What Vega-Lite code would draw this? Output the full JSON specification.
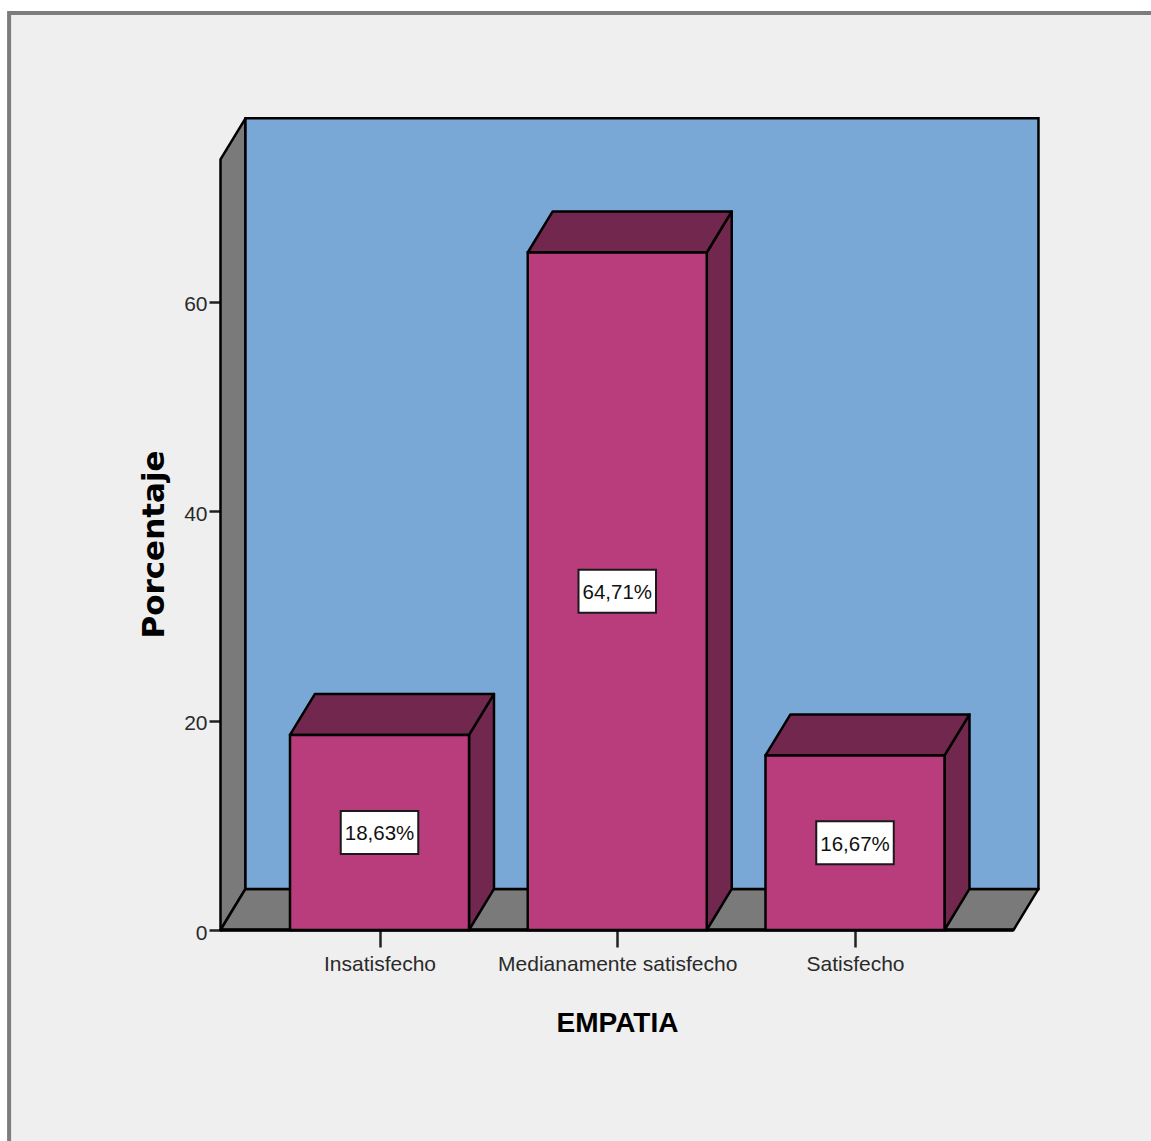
{
  "$schema": "https://vega.github.io/schema/vega-lite/v6.json",
  "width": 930,
  "height": 930,
  "padding": {"left": 221, "top": 0, "right": 0, "bottom": 211},
  "autosize": {"type": "none"},
  "background": "#efefef",
  "view": {"stroke": null},
  "params": [
    {"name": "mitad", "value": 0.3765},
    {"name": "dx", "value": 0.105},
    {"name": "dy", "value": 3.92}
  ],
  "resolve": {"axis": {"x": "independent", "y": "independent"}},
  "datasets": {
    "empatia": [
      {"nivel": "Insatisfecho", "pos": 1, "porcentaje": 18.63},
      {"nivel": "Medianamente satisfecho", "pos": 2, "porcentaje": 64.71},
      {"nivel": "Satisfecho", "pos": 3, "porcentaje": 16.67}
    ],
    "plano": [
      {"xMin": 0.3312, "xMax": 3.6667, "yMax": 73.6}
    ],
    "margen": [
      {"izq": -1, "der": 5, "sup": 100, "inf": 87.58},
      {"izq": -1, "der": -0.558, "sup": 100, "inf": -30}
    ],
    "marco": [
      {"izq": -0.558, "der": 4.4, "sup": 87.58, "inf": -22}
    ]
  },
  "layer": [
    {
      "data": {"name": "margen"},
      "mark": {"type": "rect", "fill": "#ffffff"},
      "encoding": {
        "x": {"field": "izq", "type": "quantitative", "scale": {"domain": [0.3333, 4.245], "nice": false, "zero": false}, "axis": null},
        "x2": {"field": "der"},
        "y": {"field": "sup", "type": "quantitative", "scale": {"domain": [0, 88.825], "nice": false, "zero": false}, "axis": null},
        "y2": {"field": "inf"}
      }
    },
    {
      "data": {"name": "marco"},
      "mark": {"type": "rect", "fill": null, "stroke": "#7d7d7d", "strokeWidth": 4},
      "encoding": {
        "x": {"field": "izq", "type": "quantitative", "scale": {"domain": [0.3333, 4.245], "nice": false, "zero": false}, "axis": null},
        "x2": {"field": "der"},
        "y": {"field": "sup", "type": "quantitative", "scale": {"domain": [0, 88.825], "nice": false, "zero": false}, "axis": null},
        "y2": {"field": "inf"}
      }
    },
    {
      "data": {"name": "plano"},
      "transform": [
        {"calculate": "[datum.xMin, datum.xMin + dx]", "as": "caraX"},
        {"calculate": "[0, dy]", "as": "caraLo"},
        {"calculate": "[datum.yMax, datum.yMax + dy]", "as": "caraHi"},
        {"flatten": ["caraX", "caraLo", "caraHi"]}
      ],
      "mark": {"type": "area", "fill": "#7a7a7a", "stroke": "#000000", "strokeWidth": 2.5, "strokeJoin": "round", "interpolate": "linear"},
      "encoding": {
        "x": {"field": "caraX", "type": "quantitative", "scale": {"domain": [0.3333, 4.245], "nice": false, "zero": false}, "axis": null},
        "y": {"field": "caraLo", "type": "quantitative", "scale": {"domain": [0, 88.825], "nice": false, "zero": false}, "axis": null},
        "y2": {"field": "caraHi"}
      }
    },
    {
      "data": {"name": "plano"},
      "transform": [
        {"calculate": "[datum.xMin, datum.xMin + dx, datum.xMax, datum.xMax + dx]", "as": "caraX"},
        {"calculate": "[0, 0, 0, dy]", "as": "caraLo"},
        {"calculate": "[0, dy, dy, dy]", "as": "caraHi"},
        {"flatten": ["caraX", "caraLo", "caraHi"]}
      ],
      "mark": {"type": "area", "fill": "#7a7a7a", "stroke": "#000000", "strokeWidth": 2.5, "strokeJoin": "round", "interpolate": "linear"},
      "encoding": {
        "x": {"field": "caraX", "type": "quantitative", "scale": {"domain": [0.3333, 4.245], "nice": false, "zero": false}, "axis": null},
        "y": {"field": "caraLo", "type": "quantitative", "scale": {"domain": [0, 88.825], "nice": false, "zero": false}, "axis": null},
        "y2": {"field": "caraHi"}
      }
    },
    {
      "data": {"name": "plano"},
      "transform": [
        {"calculate": "datum.xMin + dx", "as": "x0"},
        {"calculate": "datum.xMax + dx", "as": "x1"},
        {"calculate": "dy", "as": "y0"},
        {"calculate": "datum.yMax + dy", "as": "y1"}
      ],
      "mark": {"type": "rect", "fill": "#7aa8d6", "stroke": "#000000", "strokeWidth": 2.5},
      "encoding": {
        "x": {"field": "x0", "type": "quantitative", "scale": {"domain": [0.3333, 4.245], "nice": false, "zero": false}, "axis": null},
        "x2": {"field": "x1"},
        "y": {"field": "y0", "type": "quantitative", "scale": {"domain": [0, 88.825], "nice": false, "zero": false}, "axis": null},
        "y2": {"field": "y1"}
      }
    },
    {
      "data": {"name": "plano"},
      "transform": [{"calculate": "0", "as": "base"}],
      "mark": {"type": "rule", "stroke": "#000000", "strokeWidth": 3.5},
      "encoding": {
        "x": {"field": "xMin", "type": "quantitative", "scale": {"domain": [0.3333, 4.245], "nice": false, "zero": false}, "axis": null},
        "x2": {"field": "xMax"},
        "y": {"field": "base", "type": "quantitative", "scale": {"domain": [0, 88.825], "nice": false, "zero": false}, "axis": null}
      }
    },
    {
      "data": {"name": "empatia"},
      "transform": [
        {"calculate": "[datum.pos + mitad, datum.pos + mitad + dx]", "as": "caraX"},
        {"calculate": "[0, dy]", "as": "caraLo"},
        {"calculate": "[datum.porcentaje, datum.porcentaje + dy]", "as": "caraHi"},
        {"flatten": ["caraX", "caraLo", "caraHi"]}
      ],
      "mark": {"type": "area", "fill": "#72284e", "stroke": "#000000", "strokeWidth": 2.5, "strokeJoin": "round", "interpolate": "linear"},
      "encoding": {
        "x": {"field": "caraX", "type": "quantitative", "scale": {"domain": [0.3333, 4.245], "nice": false, "zero": false}, "axis": null},
        "y": {"field": "caraLo", "type": "quantitative", "scale": {"domain": [0, 88.825], "nice": false, "zero": false}, "axis": null},
        "y2": {"field": "caraHi"},
        "detail": {"field": "nivel"}
      }
    },
    {
      "data": {"name": "empatia"},
      "transform": [
        {"calculate": "[datum.pos - mitad, datum.pos - mitad + dx, datum.pos + mitad, datum.pos + mitad + dx]", "as": "caraX"},
        {"calculate": "[datum.porcentaje, datum.porcentaje, datum.porcentaje, datum.porcentaje + dy]", "as": "caraLo"},
        {"calculate": "[datum.porcentaje, datum.porcentaje + dy, datum.porcentaje + dy, datum.porcentaje + dy]", "as": "caraHi"},
        {"flatten": ["caraX", "caraLo", "caraHi"]}
      ],
      "mark": {"type": "area", "fill": "#72284e", "stroke": "#000000", "strokeWidth": 2.5, "strokeJoin": "round", "interpolate": "linear"},
      "encoding": {
        "x": {"field": "caraX", "type": "quantitative", "scale": {"domain": [0.3333, 4.245], "nice": false, "zero": false}, "axis": null},
        "y": {"field": "caraLo", "type": "quantitative", "scale": {"domain": [0, 88.825], "nice": false, "zero": false}, "axis": null},
        "y2": {"field": "caraHi"},
        "detail": {"field": "nivel"}
      }
    },
    {
      "data": {"name": "empatia"},
      "transform": [
        {"calculate": "datum.pos - mitad", "as": "x0"},
        {"calculate": "datum.pos + mitad", "as": "x1"},
        {"calculate": "0", "as": "base"}
      ],
      "mark": {"type": "rect", "fill": "#b93d7c", "stroke": "#000000", "strokeWidth": 2.5},
      "encoding": {
        "x": {"field": "x0", "type": "quantitative", "scale": {"domain": [0.3333, 4.245], "nice": false, "zero": false}, "axis": null},
        "x2": {"field": "x1"},
        "y": {"field": "porcentaje", "type": "quantitative", "scale": {"domain": [0, 88.825], "nice": false, "zero": false}, "axis": null},
        "y2": {"field": "base"}
      }
    },
    {
      "data": {"name": "empatia"},
      "transform": [
        {"calculate": "datum.pos - 0.163", "as": "x0"},
        {"calculate": "datum.pos + 0.163", "as": "x1"},
        {"calculate": "datum.porcentaje / 2 - 2.05", "as": "y0"},
        {"calculate": "datum.porcentaje / 2 + 2.05", "as": "y1"}
      ],
      "mark": {"type": "rect", "fill": "#ffffff", "stroke": "#1a1a1a", "strokeWidth": 2},
      "encoding": {
        "x": {"field": "x0", "type": "quantitative", "scale": {"domain": [0.3333, 4.245], "nice": false, "zero": false}, "axis": null},
        "x2": {"field": "x1"},
        "y": {"field": "y0", "type": "quantitative", "scale": {"domain": [0, 88.825], "nice": false, "zero": false}, "axis": null},
        "y2": {"field": "y1"}
      }
    },
    {
      "data": {"name": "empatia"},
      "transform": [
        {"calculate": "datum.porcentaje / 2", "as": "medio"},
        {"calculate": "replace(format(datum.porcentaje, '.2f'), '.', ',') + '%'", "as": "etiqueta"}
      ],
      "mark": {"type": "text", "font": "Liberation Sans", "fontSize": 20.5, "color": "#111111", "align": "center", "baseline": "middle", "dy": 2},
      "encoding": {
        "x": {
          "field": "pos", "type": "quantitative",
          "scale": {"domain": [0.3333, 4.245], "nice": false, "zero": false},
          "axis": {
            "domain": false, "grid": false,
            "values": [1, 2, 3],
            "labelExpr": "datum.value == 1 ? 'Insatisfecho' : datum.value == 2 ? 'Medianamente satisfecho' : 'Satisfecho'",
            "labelFont": "Liberation Sans", "labelFontSize": 21, "labelColor": "#2a2a2a",
            "labelPadding": 6, "labelOverlap": false, "labelFlush": false, "labelLimit": 400,
            "tickSize": 17, "tickWidth": 2.5, "tickColor": "#222222",
            "title": "EMPATIA", "titleFont": "Liberation Sans", "titleFontWeight": "bold",
            "titleFontSize": 28, "titleColor": "#000000",
            "titleX": 396, "titleY": 93, "titleAnchor": "middle", "titleBaseline": "middle", "titleAlign": "center"
          }
        },
        "y": {
          "field": "medio", "type": "quantitative",
          "scale": {"domain": [0, 88.825], "nice": false, "zero": false},
          "axis": {
            "domain": false, "grid": false,
            "values": [0, 20, 40, 60],
            "labelFont": "Liberation Sans", "labelFontSize": 21, "labelColor": "#2a2a2a",
            "labelPadding": 2, "labelOffset": 3,
            "tickSize": 12, "tickWidth": 2.5, "tickColor": "#222222",
            "title": "Porcentaje", "titleFont": "DejaVu Sans", "titleFontWeight": "bold",
            "titleFontSize": 31, "titleColor": "#000000",
            "titleX": -67, "titleY": 544, "titleAnchor": "middle", "titleBaseline": "middle", "titleAlign": "center", "titleAngle": -90
          }
        },
        "text": {"field": "etiqueta", "type": "nominal"}
      }
    }
  ]
}
